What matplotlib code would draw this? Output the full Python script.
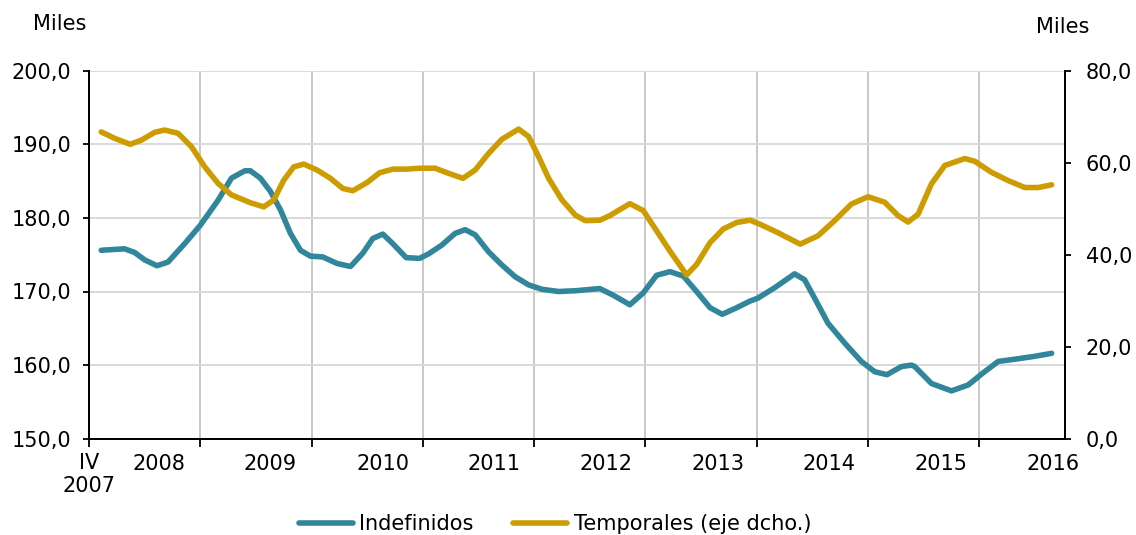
import numpy as np
import matplotlib.pyplot as plt

# posicion en años desde el inicio del eje (IV 2007)
x_indef = [0.11, 0.32, 0.41, 0.50, 0.61, 0.71, 0.86, 1.00, 1.16, 1.28, 1.40, 1.45,
           1.54, 1.63, 1.72, 1.81, 1.90, 1.99, 2.10, 2.23, 2.35, 2.46, 2.55, 2.64,
           2.73, 2.85, 2.97, 3.05, 3.17, 3.29, 3.38, 3.47, 3.59, 3.71, 3.83, 3.95,
           4.07, 4.22, 4.37, 4.59, 4.71, 4.86, 4.98, 5.10, 5.22, 5.34, 5.46, 5.58,
           5.69, 5.82, 5.94, 6.01, 6.16, 6.34, 6.43, 6.52, 6.64, 6.79, 6.94, 7.06,
           7.17, 7.30, 7.39, 7.42, 7.57, 7.75, 7.90, 8.03, 8.17, 8.32, 8.50, 8.65]
indefinidos = [175.6, 175.8, 175.3, 174.3, 173.5, 174.0, 176.5, 179.0, 182.4, 185.4, 186.4, 186.4,
               185.4, 183.6, 181.1, 177.9, 175.6, 174.8, 174.7, 173.8, 173.4, 175.2, 177.2, 177.8,
               176.5, 174.6, 174.5, 175.1, 176.3, 177.9, 178.4, 177.7, 175.4, 173.6, 172.0, 170.9,
               170.3, 170.0, 170.1, 170.4, 169.5, 168.2, 169.8, 172.2, 172.7, 172.1, 170.0, 167.8,
               166.9, 167.8, 168.7, 169.1, 170.5, 172.4, 171.6, 169.1, 165.7, 163.0, 160.5, 159.1,
               158.7, 159.8, 160.0, 159.8, 157.5, 156.5, 157.3, 158.9, 160.5, 160.8, 161.2, 161.6]

x_temp = [0.11, 0.23, 0.37, 0.47, 0.59, 0.68, 0.80, 0.92, 1.04, 1.16, 1.28, 1.45,
          1.57, 1.66, 1.75, 1.84, 1.93, 2.05, 2.17, 2.28, 2.37, 2.50, 2.61, 2.73,
          2.85, 2.97, 3.11, 3.23, 3.36, 3.47, 3.59, 3.71, 3.86, 3.95, 4.04, 4.13,
          4.25, 4.37, 4.46, 4.59, 4.68, 4.86, 4.98, 5.10, 5.22, 5.37, 5.46, 5.58,
          5.70, 5.82, 5.94, 6.04, 6.19, 6.39, 6.55, 6.70, 6.85, 7.00, 7.15, 7.27,
          7.36, 7.45, 7.57, 7.69, 7.87, 7.96, 8.11, 8.26, 8.41, 8.53, 8.65]
temporales = [66.7, 65.3, 64.0, 64.9, 66.6, 67.1, 66.4, 63.5, 59.1, 55.5, 53.0, 51.3,
              50.4, 51.9, 56.2, 59.1, 59.7, 58.4, 56.6, 54.4, 53.9, 55.7, 57.8, 58.6,
              58.6, 58.8, 58.8, 57.7, 56.6, 58.4, 62.0, 65.1, 67.3, 65.7, 61.3, 56.6,
              51.9, 48.6, 47.4, 47.5, 48.5, 51.1, 49.6, 45.2, 40.8, 35.6, 37.9, 42.6,
              45.6, 47.0, 47.5, 46.5, 44.8, 42.3, 44.1, 47.4, 51.0, 52.6, 51.4, 48.5,
              47.1, 48.8, 55.4, 59.4, 60.9, 60.3, 57.9, 56.1, 54.6, 54.6, 55.2]

year_labels = ['2008', '2009', '2010', '2011', '2012', '2013', '2014', '2015', '2016']
year_pos = [0.63, 1.63, 2.64, 3.64, 4.65, 5.65, 6.65, 7.66, 8.66]

TEAL = '#31869B'
GOLD = '#CC9C00'
FS = 15

plt.rcParams['font.family'] = ['DejaVu Sans']

def coma(v):
    return f'{v:.1f}'.replace('.', ',')

fig = plt.figure(figsize=(11.36, 5.35), dpi=100)
ax = fig.add_axes([89 / 1136, 1 - 438.7 / 535, 976 / 1136, 368 / 535])
ax2 = ax.twinx()

l1, = ax.plot(x_indef, indefinidos, color=TEAL, lw=4.0, solid_capstyle='round',
              solid_joinstyle='round', label='Indefinidos')
l2, = ax2.plot(x_temp, temporales, color=GOLD, lw=4.0, solid_capstyle='round',
               solid_joinstyle='round', label='Temporales (eje dcho.)')

ax.set_xlim(0, 8.77)
ax.set_ylim(150, 200)
ax2.set_ylim(0, 80)

lt = np.arange(150, 201, 10)
ax.set_yticks(lt)
ax.set_yticklabels([coma(v) for v in lt])
rt = np.arange(0, 81, 20)
ax2.set_yticks(rt)
ax2.set_yticklabels([coma(v) for v in rt])

ax.set_xticks(range(9))
ax.set_xticklabels(['IV\n2007'] + [''] * 8)
ax.set_xticks(year_pos, minor=True)
ax.set_xticklabels(year_labels, minor=True)

ax.grid(axis='y', color='#d9d9d9', lw=1.4)
ax.grid(axis='x', which='major', color='#c8c8c8', lw=1.4)
ax.set_axisbelow(True)

for a in (ax, ax2):
    a.spines['top'].set_visible(False)
    for s in ('left', 'right', 'bottom'):
        a.spines[s].set_linewidth(1.3)
        a.spines[s].set_color('black')

ax.tick_params(axis='y', direction='out', length=4.5, width=1.3, pad=8.5, labelsize=FS)
ax2.tick_params(axis='y', direction='out', length=4.5, width=1.3, pad=10.5, labelsize=FS)
ax.tick_params(axis='x', which='major', direction='out', length=6, width=1.3, pad=4.5, labelsize=FS)
ax.tick_params(axis='x', which='minor', length=0, pad=11, labelsize=FS)

fig.text(33 / 1136, 1 - 24 / 535, 'Miles', ha='left', va='center', fontsize=FS)
fig.text(1036 / 1136, 1 - 27 / 535, 'Miles', ha='left', va='center', fontsize=FS)

fig.legend(handles=[l1, l2], loc='center', bbox_to_anchor=(555 / 1136, 1 - 524 / 535),
           ncol=2, frameon=False, fontsize=FS, handlelength=2.6, handletextpad=0.3,
           columnspacing=1.9)

fig.savefig('out.png', dpi=100)
